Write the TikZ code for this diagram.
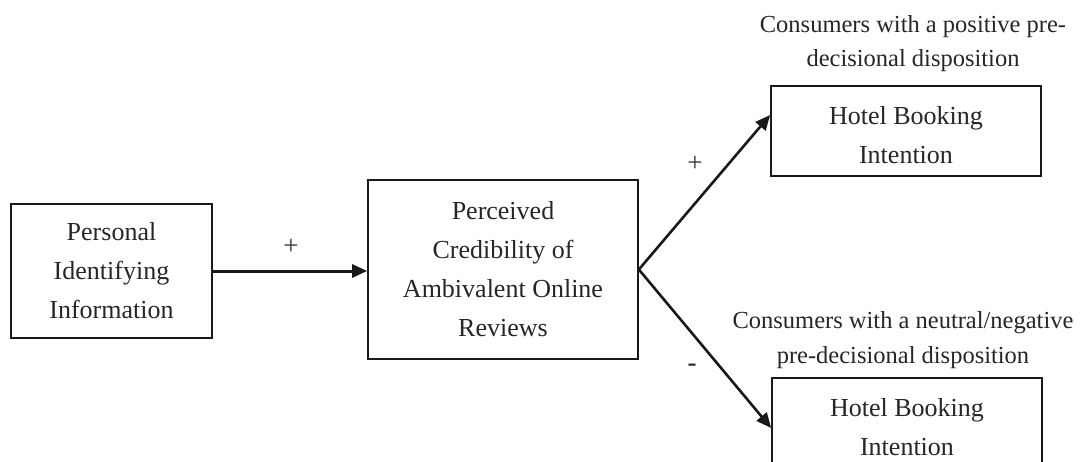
\documentclass[tikz,border=0pt]{standalone}
\usepackage{fontspec}
\setmainfont{Liberation Serif}
\usetikzlibrary{arrows.meta}

\tikzset{
  boxnode/.style={draw=black!90, line width=1.7pt, rectangle, inner sep=0pt,
    align=center, text=black!85, font=\fontsize{26}{39}\selectfont},
  capnode/.style={align=center, inner sep=0pt, text=black!85,
    font=\fontsize{24.5}{34.5}\selectfont},
  signnode/.style={inner sep=0pt, text=black!80, font=\fontsize{27}{30}\selectfont},
  link/.style={draw=black!90, -{Triangle[length=15pt,width=13pt]}},
}

\begin{document}
\begin{tikzpicture}[x=1pt, y=-1pt]
  \useasboundingbox (0,0) rectangle (1087,461);

  % boxes
  \node[boxnode, minimum width=201pt, minimum height=134pt] (pii) at (111.5,271)
    {Personal\\Identifying\\Information};
  \node[boxnode, minimum width=270pt, minimum height=179pt] (cred) at (503,269.5)
    {Perceived\\Credibility of\\Ambivalent Online\\Reviews};
  \node[boxnode, minimum width=270pt, minimum height=90pt] (hbtop) at (906,131)
    {\rule{0pt}{26pt}Hotel Booking\\Intention};
  \node[boxnode, minimum width=270pt, minimum height=90pt] (hbbot) at (907,423)
    {\rule{0pt}{26pt}Hotel Booking\\Intention};

  % group captions
  \node[capnode] (captop) at (913,43.5)
    {Consumers with a positive pre-\\decisional disposition};
  \node[capnode] (capbot) at (903,340)
    {Consumers with a neutral/negative\\pre-decisional disposition};

  % paths of influence
  \draw[link, line width=3pt] (pii.east) -- (pii.east -| cred.west);
  \coordinate (fork) at (cred.east);
  \draw[link, line width=2.6pt] (fork) -- ([yshift=16pt]hbtop.west);
  \draw[link, line width=2.6pt] (fork) -- ([yshift=-5pt]hbbot.west);

  % signs
  \node[signnode] (s1) at (291,247) {+};
  \node[signnode] (s2) at (695,164) {+};
  \node[signnode, font=\fontsize{27}{30}\selectfont\bfseries] (s3) at (692,368) {-};
\end{tikzpicture}
\end{document}
